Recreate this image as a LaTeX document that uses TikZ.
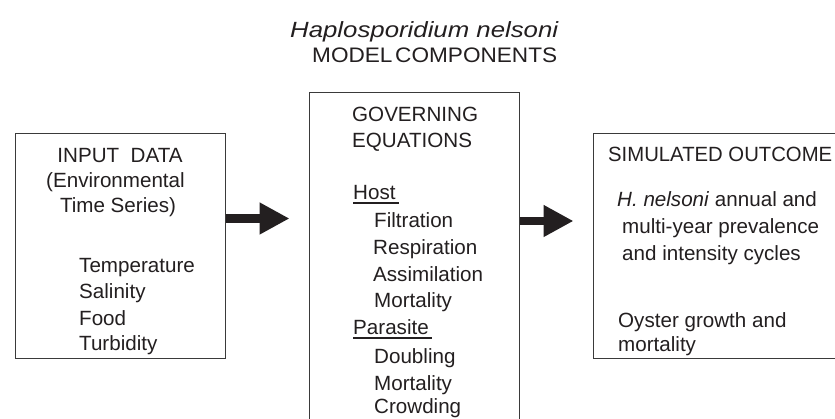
\documentclass[tikz,border=0pt]{standalone}
\usepackage{fontspec}
\setmainfont{Liberation Sans}
\usetikzlibrary{arrows.meta}
\definecolor{ink}{HTML}{231F20}
\definecolor{frame}{HTML}{3A3A3A}
\begin{document}
\begin{tikzpicture}[x=1pt,y=-1pt,
  box/.style={draw=frame,line width=1pt,inner sep=0pt,fill=none},
  txt/.style={inner sep=0pt,anchor=base west,text=ink,font=\fontsize{20.6}{24}\selectfont},
  ctxt/.style={txt,anchor=base},
  uline/.style={draw=ink,line width=1.2pt},
  bigarrow/.style={draw=ink,line width=8.5pt,-{Triangle[length=30pt 0 0,width=30pt 0 0]},shorten >=19pt}
]
\useasboundingbox (0,0) rectangle (835,419);
\clip (0,0) rectangle (835,419);
\fill[white] (0,0) rectangle (835,419);

% title
\node[txt,font=\fontsize{22}{26}\selectfont] (t1) at (290,38) {\resizebox{268pt}{\height}{\itshape Haplosporidium nelsoni}};
\node[txt,font=\fontsize{21}{25}\selectfont] (t2) at (312,63) {\resizebox{245pt}{\height}{MODEL\hspace{0.12em}COMPONENTS}};

% boxes
\node[box,minimum width=210pt,minimum height=225pt] (in) at (120,246.5) {};
\node[box,minimum width=210pt,minimum height=350pt] (eq) at (414,268) {};
\node[box,minimum width=260pt,minimum height=225pt] (out) at (723,246.5) {};

% input text
\node[ctxt] (i1) at (120,163) {INPUT\ \ DATA};
\node[ctxt] (i2) at (115.5,188) {(Environmental};
\node[ctxt] (i3) at (118,213) {Time Series)};
\node[txt] (i4) at (79,273) {Temperature};
\node[txt] (i5) at (79,299) {Salinity};
\node[txt] (i6) at (79,326) {Food};
\node[txt] (i7) at (79,351) {Turbidity};

% equations text
\node[txt] (e1) at (352,122) {GOVERNING};
\node[txt] (e2) at (352,148) {EQUATIONS};
\node[txt] (h) at (353,200) {Host};
\node[txt] (h1) at (374,228) {Filtration};
\node[txt] (h2) at (373,255) {Respiration};
\node[txt] (h3) at (373,282) {Assimilation};
\node[txt] (h4) at (374,308) {Mortality};
\node[txt] (p) at (353,335) {Parasite};
\node[txt] (p1) at (374,363) {Doubling};
\node[txt] (p2) at (374,390) {Mortality};
\node[txt] (p3) at (374,413) {Crowding};
\draw[uline] ([yshift=-3pt]h.base west) -- ++(46,0);
\draw[uline] ([yshift=-3pt]p.base west) -- ++(79,0);

% outcome text
\node[txt] (o1) at (608,162) {\resizebox{224pt}{\height}{SIMULATED OUTCOME}};
\node[txt] (o2) at (617,207) {\textit{H. nelsoni} annual and};
\node[txt] (o3) at (622,234) {multi-year prevalence};
\node[txt] (o4) at (622,261) {and intensity cycles};
\node[txt] (o5) at (618,328) {Oyster growth and};
\node[txt] (o6) at (618,352) {mortality};

% arrows
\coordinate (a1) at (0,218.5);
\coordinate (a2) at (0,221);
\draw[bigarrow] (in.east |- a1) -- (eq.west |- a1);
\draw[bigarrow] (eq.east |- a2) -- (out.west |- a2);
\end{tikzpicture}
\end{document}
